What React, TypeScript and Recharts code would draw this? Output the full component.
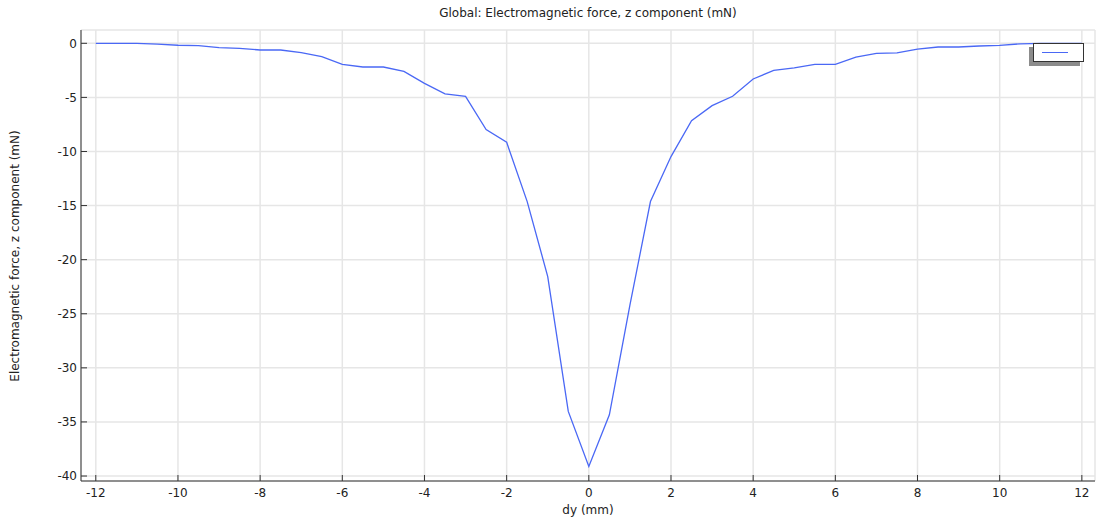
import React from 'react';
import {
  LineChart,
  Line,
  XAxis,
  YAxis,
  CartesianGrid,
  Legend,
} from 'recharts';

// dy positions (mm)
const dyValues = [
  -12, -11.5, -11, -10.5, -10, -9.5, -9, -8.5, -8, -7.5, -7, -6.5, -6, -5.5, -5, -4.5,
  -4, -3.5, -3, -2.5, -2, -1.5, -1, -0.5, 0, 0.5, 1, 1.5, 2, 2.5, 3, 3.5,
  4, 4.5, 5, 5.5, 6, 6.5, 7, 7.5, 8, 8.5, 9, 9.5, 10, 10.5, 11, 11.5, 12,
];

// Electromagnetic force, z component (mN)
const forceZ = [
  0, 0, 0, -0.08, -0.18, -0.22, -0.4, -0.46, -0.62, -0.62, -0.86, -1.23, -1.94, -2.19, -2.19, -2.59,
  -3.7, -4.68, -4.9, -7.98, -9.15, -14.63, -21.56, -34.03, -39.11, -34.34, -24.2, -14.63, -10.47, -7.15, -5.76, -4.9,
  -3.3, -2.5, -2.28, -1.94, -1.94, -1.27, -0.93, -0.88, -0.53, -0.34, -0.34, -0.25, -0.19, -0.05, 0, 0, 0,
];

const xTicks = [-12, -10, -8, -6, -4, -2, 0, 2, 4, 6, 8, 10, 12];
const yTicks = [0, -5, -10, -15, -20, -25, -30, -35, -40];

const data = dyValues.map((dy, i) => ({ dy, fz: forceZ[i] }));

const FONT = '"DejaVu Sans", Verdana, sans-serif';
const LINE_COLOR = '#4a68f5';
const AXIS_COLOR = '#333';
const tickStyle = { fontSize: 12, fill: '#222', fontFamily: FONT };

function LegendBox({ payload }: any) {
  const color = payload && payload[0] ? payload[0].color : LINE_COLOR;
  return (
    <div
      style={{
        width: 49,
        height: 17,
        border: '1px solid #333',
        background: '#fff',
        boxShadow: '-4px 4px 0 0 #8c8c8c',
        position: 'relative',
      }}
    >
      <div
        style={{
          position: 'absolute',
          left: 8,
          top: 8,
          width: 26,
          height: 1,
          background: color,
        }}
      />
    </div>
  );
}

export default function App() {
  return (
    <div style={{ position: 'absolute', left: 0, top: 0, width: 1099, height: 519, background: '#fff' }}>
      <div
        style={{
          position: 'absolute',
          left: 0,
          width: 1176,
          top: 6,
          textAlign: 'center',
          fontFamily: FONT,
          fontSize: 12,
          color: '#222',
        }}
      >
        Global: Electromagnetic force, z component (mN)
      </div>
      <div
        style={{
          position: 'absolute',
          left: 81,
          width: 1014,
          top: 503,
          textAlign: 'center',
          fontFamily: FONT,
          fontSize: 12,
          color: '#222',
        }}
      >
        dy (mm)
      </div>
      <div
        style={{
          position: 'absolute',
          left: 15,
          top: 256,
          transform: 'translate(-50%, -50%) rotate(-90deg)',
          whiteSpace: 'nowrap',
          fontFamily: FONT,
          fontSize: 12,
          color: '#222',
        }}
      >
        Electromagnetic force, z component (mN)
      </div>
      <LineChart
        width={1099}
        height={519}
        data={data}
        margin={{ top: 30, right: 4, bottom: 0, left: 0 }}
      >
        <CartesianGrid stroke="#e6e6e6" strokeWidth={1.5} />
        <XAxis
          type="number"
          dataKey="dy"
          domain={[-12.36, 12.32]}
          ticks={xTicks}
          allowDataOverflow
          height={38}
          tickSize={-6}
          tickMargin={13}
          tick={tickStyle}
          stroke={AXIS_COLOR}
          tickLine={{ stroke: AXIS_COLOR }}
        />
        <XAxis
          xAxisId="top"
          orientation="top"
          type="number"
          dataKey="dy"
          domain={[-12.36, 12.32]}
          ticks={xTicks}
          allowDataOverflow
          height={0}
          tickSize={-6}
          tick={false}
          stroke={AXIS_COLOR}
        />
        <YAxis
          type="number"
          domain={[-40.46, 1.23]}
          ticks={yTicks}
          allowDataOverflow
          width={81}
          tickSize={-6}
          tickMargin={10}
          tick={tickStyle}
          stroke={AXIS_COLOR}
          tickLine={{ stroke: AXIS_COLOR }}
        />
        <YAxis
          yAxisId="right"
          orientation="right"
          type="number"
          domain={[-40.46, 1.23]}
          ticks={yTicks}
          allowDataOverflow
          width={0}
          tickSize={-6}
          tick={false}
          stroke={AXIS_COLOR}
        />
        <Legend
          layout="horizontal"
          verticalAlign="middle"
          align="center"
          content={LegendBox}
          wrapperStyle={{ position: 'absolute', left: 1033, top: 43, width: 'auto' }}
        />
        <Line
          type="linear"
          dataKey="fz"
          stroke={LINE_COLOR}
          strokeWidth={1.3}
          dot={false}
          isAnimationActive={false}
        />
      </LineChart>
    </div>
  );
}
